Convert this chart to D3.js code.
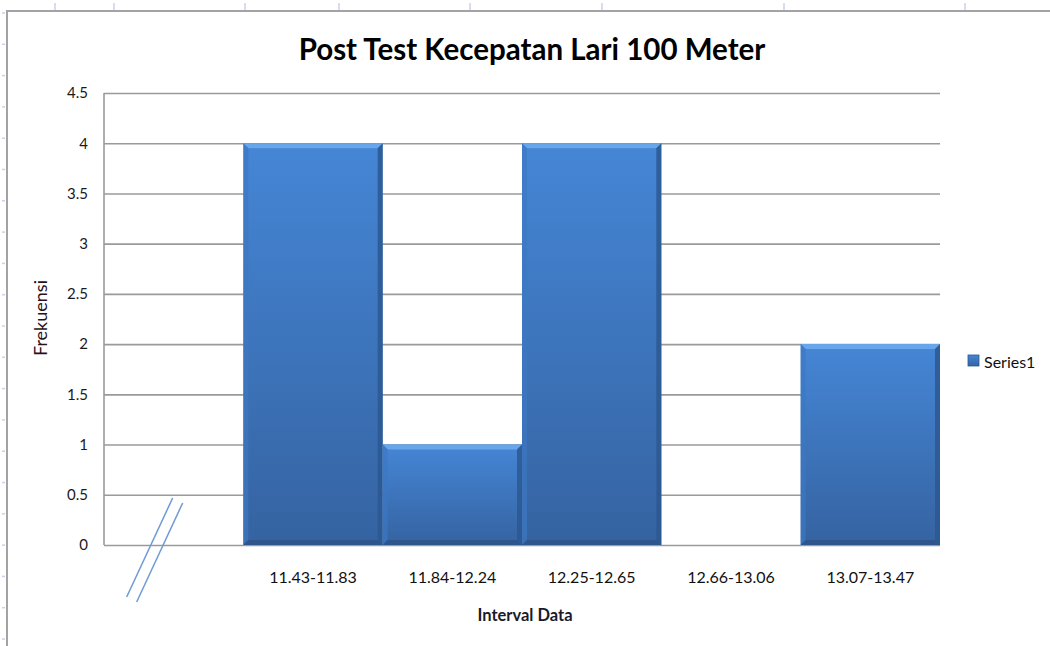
<!DOCTYPE html>
<html>
<head>
<meta charset="utf-8">
<script src="https://cdn.jsdelivr.net/npm/d3@7"></script>
<style>
  body { margin: 0; background: #fff; }
  svg { display: block; }
  text { font-family: Lato, "Open Sans", sans-serif; fill: #111; }
</style>
</head>
<body>
<div class="wrapper"></div>
<script>
// chart data
var categories = ["", "11.43-11.83", "11.84-12.24", "12.25-12.65", "12.66-13.06", "13.07-13.47"];
var frequencies = [null, 4, 1, 4, 0, 2];
var yTicks = [0, 0.5, 1, 1.5, 2, 2.5, 3, 3.5, 4, 4.5];
var seriesName = "Series1";
var titleText = "Post Test Kecepatan Lari 100 Meter";
var xTitle = "Interval Data";
var yTitle = "Frekuensi";

// spreadsheet backdrop (column edges seen above the chart)
var sheetColumns = [55, 114, 245, 339, 470, 602, 784, 965];

var width = 1050, height = 646;
var plot = { left: 104, right: 940, top: 93, bottom: 545 };
var bevel = 5;

var svg = d3.select(".wrapper").append("svg")
  .attr("width", width)
  .attr("height", height);

var defs = svg.append("defs");
var grad = defs.append("linearGradient")
  .attr("id", "bar-grad")
  .attr("x1", "0%").attr("y1", "0%").attr("x2", "0%").attr("y2", "100%");
grad.append("stop").attr("offset", "0%").attr("stop-color", "#4586d6");
grad.append("stop").attr("offset", "100%").attr("stop-color", "#3563a1");

// spreadsheet marks
var sheet = svg.append("g").attr("class", "sheet");
sheet.selectAll(".col-edge").data(sheetColumns).enter().append("line")
  .attr("x1", d => d).attr("x2", d => d)
  .attr("y1", 3).attr("y2", 10)
  .attr("stroke", "#c9d2e6").attr("stroke-width", 1.5);
sheet.selectAll(".row-edge").data(d3.range(13, height, 31.3)).enter().append("line")
  .attr("x1", 2).attr("x2", 5)
  .attr("y1", d => d).attr("y2", d => d)
  .attr("stroke", "#c9d2e6").attr("stroke-width", 1.5);

// chart area border (only top and left visible in the screenshot)
svg.append("path")
  .attr("d", "M7," + height + "V11H" + width)
  .attr("fill", "none")
  .attr("stroke", "#a3a3a3")
  .attr("stroke-width", 2);

var x = d3.scaleBand()
  .domain(categories)
  .range([plot.left, plot.right])
  .padding(0);

var y = d3.scaleLinear()
  .domain([0, 4.5])
  .range([plot.bottom, plot.top]);

// gridlines
var yAxis = svg.append("g")
  .attr("transform", "translate(" + plot.left + ",0)")
  .call(d3.axisLeft(y).tickValues(yTicks).tickSize(-(plot.right - plot.left)).tickPadding(16).tickFormat(d => String(d)));
yAxis.select(".domain").remove();
yAxis.selectAll(".tick line").attr("stroke", "#9a9a9a").attr("stroke-width", 1.6);
yAxis.selectAll(".tick text")
  .attr("font-size", 15)
  .attr("font-family", "Lato, sans-serif")
  .style("fill", "#1a1a1a");

// vertical axis line
svg.append("line")
  .attr("x1", plot.left).attr("x2", plot.left)
  .attr("y1", plot.top).attr("y2", plot.bottom)
  .attr("stroke", "#9a9a9a").attr("stroke-width", 1.6);

// bars
var bars = svg.append("g").attr("class", "bars")
  .selectAll("g")
  .data(categories.map((c, i) => ({ cat: c, value: frequencies[i] })).filter(d => d.value))
  .enter().append("g");

function barGeom(d) {
  var x0 = x(d.cat), x1 = x0 + x.bandwidth();
  var y0 = y(d.value), y1 = y(0);
  return { x0: x0, x1: x1, y0: y0, y1: y1 };
}

bars.append("rect")
  .attr("x", d => barGeom(d).x0)
  .attr("y", d => barGeom(d).y0)
  .attr("width", x.bandwidth())
  .attr("height", d => y(0) - y(d.value))
  .attr("fill", "url(#bar-grad)");

// bevel: top highlight
bars.append("path")
  .attr("d", d => {
    var g = barGeom(d);
    return "M" + g.x0 + "," + g.y0 + "H" + g.x1 + "L" + (g.x1 - bevel) + "," + (g.y0 + bevel) + "H" + (g.x0 + bevel) + "Z";
  })
  .attr("fill", "#68a6ec");
// left edge
bars.append("path")
  .attr("d", d => {
    var g = barGeom(d);
    return "M" + g.x0 + "," + g.y0 + "L" + (g.x0 + bevel) + "," + (g.y0 + bevel) + "V" + (g.y1 - bevel) + "L" + g.x0 + "," + g.y1 + "Z";
  })
  .attr("fill", "#3d78c2").attr("opacity", 0.7);
// right edge
bars.append("path")
  .attr("d", d => {
    var g = barGeom(d);
    return "M" + g.x1 + "," + g.y0 + "L" + (g.x1 - bevel) + "," + (g.y0 + bevel) + "V" + (g.y1 - bevel) + "L" + g.x1 + "," + g.y1 + "Z";
  })
  .attr("fill", "#2c5890").attr("opacity", 0.85);
// bottom edge
bars.append("path")
  .attr("d", d => {
    var g = barGeom(d);
    return "M" + g.x0 + "," + g.y1 + "L" + (g.x0 + bevel) + "," + (g.y1 - bevel) + "H" + (g.x1 - bevel) + "L" + g.x1 + "," + g.y1 + "Z";
  })
  .attr("fill", "#2d5489").attr("opacity", 0.85);

// x labels
svg.append("g")
  .selectAll("text")
  .data(categories)
  .enter().append("text")
  .attr("x", d => x(d) + x.bandwidth() / 2)
  .attr("y", 583)
  .attr("text-anchor", "middle")
  .attr("font-size", 16)
  .text(d => d);

// axis break marks under the empty first category
var bx = x(categories[0]) + x.bandwidth() / 2, by = y(0);
[0, 10].forEach(off => {
  svg.append("line")
    .attr("x1", bx - 47 + off).attr("y1", by + 52 + off / 2)
    .attr("x2", bx - 1 + off).attr("y2", by - 47 + off / 2)
    .attr("stroke", "#6e9ad4").attr("stroke-width", 1.5);
});

// titles
svg.append("text")
  .attr("x", 532).attr("y", 60)
  .attr("text-anchor", "middle")
  .attr("font-size", 29.5)
  .attr("font-weight", "bold")
  .style("fill", "#000")
  .text(titleText);

svg.append("text")
  .attr("x", (plot.left + plot.right) / 2 + 3).attr("y", 621)
  .attr("text-anchor", "middle")
  .attr("font-size", 16.5)
  .attr("font-weight", "bold")
  .style("fill", "#1a1a2a")
  .text(xTitle);

svg.append("text")
  .attr("transform", "translate(47," + ((plot.top + plot.bottom) / 2 - 1) + ") rotate(-90)")
  .attr("text-anchor", "middle")
  .attr("font-size", 18)
  .style("fill", "#2a0f1c")
  .text(yTitle);

// legend
var legend = svg.append("g").attr("transform", "translate(968,355)");
legend.append("rect")
  .attr("width", 11).attr("height", 11)
  .attr("fill", "url(#bar-grad)")
  .attr("stroke", "#2c5890").attr("stroke-width", 0.8);
legend.append("text")
  .attr("x", 16).attr("y", 6)
  .attr("dominant-baseline", "central")
  .attr("font-size", 16)
  .text(seriesName);
</script>
</body>
</html>
